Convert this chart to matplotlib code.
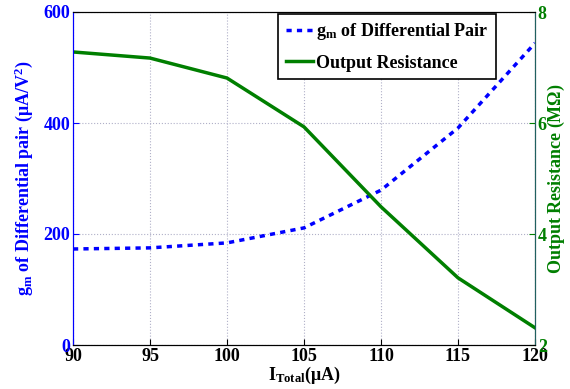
import numpy as np
import matplotlib.pyplot as plt

# data
itotal = [90, 95, 100, 105, 110, 115, 120]
gm = [173, 175, 184, 211, 279, 391, 544]
rout = [7.28, 7.17, 6.81, 5.93, 4.49, 3.21, 2.31]

plt.rcParams['font.family'] = ['Liberation Serif', 'DejaVu Serif']
plt.rcParams['font.weight'] = 'bold'
plt.rcParams['mathtext.fontset'] = 'custom'
plt.rcParams['mathtext.rm'] = 'Liberation Serif:bold'
plt.rcParams['mathtext.it'] = 'Liberation Serif:bold'
plt.rcParams['mathtext.bf'] = 'Liberation Serif:bold'
plt.rcParams['mathtext.default'] = 'rm'

blue = '#0000ff'
green = '#007f00'

fig = plt.figure(figsize=(5.7, 3.89), dpi=100)
ax = fig.add_axes([73/570, 1-345/389, 462/570, 333/389])
ax2 = ax.twinx()

l1, = ax.plot(itotal, gm, ls=(0, (1.5, 1.5)), color=blue, lw=2.5,
              label=r'g$_{m}$ of Differential Pair')
l2, = ax2.plot(itotal, rout, color=green, lw=2.5, label='Output Resistance')

ax.set_xlim(90, 120)
ax.set_ylim(0, 600)
ax2.set_ylim(2, 8)
ax.set_xticks(itotal)
ax.set_yticks([0, 200, 400, 600])
ax2.set_yticks([2, 4, 6, 8])

ax.grid(True, ls=':', color='#b0b0c8', lw=0.8)
ax.tick_params(direction='in', labelsize=13, length=4, pad=2)
ax.tick_params(axis='y', colors=blue)
ax.tick_params(axis='x', colors='black')
ax2.tick_params(direction='in', labelsize=13, length=4, pad=2, colors=green)

ax.spines['left'].set_color(blue)
ax2.spines['left'].set_color(blue)
ax2.spines['right'].set_color('#206060')

ax.set_xlabel(r'I$_{Total}$($\mu$A)', fontsize=13, fontweight='bold', labelpad=0)
ax.set_ylabel(r'g$_{m}$ of Differential pair ($\mu$A/V$^2$)', fontsize=13,
              fontweight='bold', color=blue, labelpad=6)
ax2.set_ylabel(r'Output Resistance (M$\Omega$)', fontsize=13, fontweight='bold',
               color=green, labelpad=-1)

leg = ax2.legend(handles=[l1, l2], loc='upper right', fontsize=13, frameon=True,
                 fancybox=False, edgecolor='black', framealpha=1,
                 handlelength=1.5, handletextpad=0.2, borderpad=0.4,
                 labelspacing=0.7, borderaxespad=0,
                 bbox_to_anchor=(0.915, 0.995))
leg.get_frame().set_linewidth(1.2)

fig.savefig('out.png', dpi=100)
